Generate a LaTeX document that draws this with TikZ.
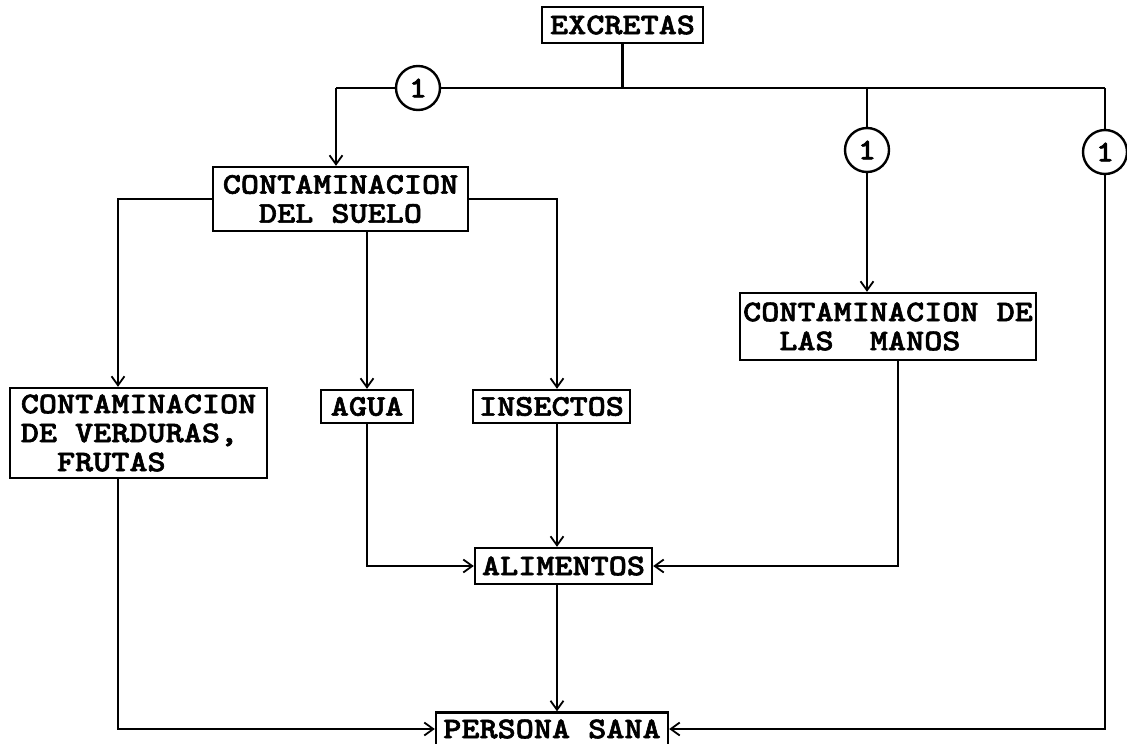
\documentclass[tikz,border=0pt]{standalone}
\usepackage{fontspec}
\newfontfamily\tw{lmmonolt10-bold.otf}[FakeStretch=1.15,FakeBold=2]
\usetikzlibrary{arrows.meta}
\tikzset{
  box/.style={draw, line width=2.4pt, font=\fontsize{30}{29}\selectfont\tw, inner sep=0pt, align=center},
  conn/.style={line width=2.2pt},
  arr/.style={conn, -{Straight Barb[length=9pt,width=13pt,line width=1.8pt]}},
  num/.style={draw, circle, line width=2.4pt, minimum size=44pt, inner sep=0pt, fill=white, font=\fontsize{30}{30}\selectfont\tw}
}
\begin{document}
\begin{tikzpicture}[x=1pt,y=-1pt]
\useasboundingbox (0,0) rectangle (1127,744);
\fill[white] (0,0) rectangle (1127,744);

\coordinate (colL) at (118,0);
\coordinate (colx) at (557,0);
\coordinate (tl) at (336,88);

\node[box, minimum width=161pt, minimum height=36pt] (ex) at (622.5,25) {EXCRETAS};
\node[box, minimum width=255pt, minimum height=64pt] (suelo) at (340.5,199) {CONTAMINACION\\DEL SUELO};
\node[box, minimum width=296pt, minimum height=67pt, align=left] (manos) at (888,326.5) {CONTAMINACION DE\\~~LAS~~MANOS};
\node[box, minimum width=257pt, minimum height=90pt, align=left] (verd) at (138.5,433) {CONTAMINACION\\DE VERDURAS,\\~~FRUTAS};
\node[box, minimum width=92pt, minimum height=33pt] (agua) at (367,406.5) {AGUA};
\node[box, minimum width=157pt, minimum height=33pt] (insect) at (551.5,406.5) {INSECTOS};
\node[box, minimum width=177pt, minimum height=36pt] (alim) at (563.5,566) {ALIMENTOS};
\node[box, minimum width=232pt, minimum height=33pt] (pers) at (552,729) {PERSONA SANA};

\node[num] (c1) at (418,88) {1};
\node[num] (c2) at (867,150) {1};
\node[num] (c3) at (1105,152) {1};

\coordinate (j2) at (c2 |- c1);
\coordinate (tr) at (c3 |- c1);

% top distribution line
\draw[conn] (ex.south) -- (ex.south |- c1);
\draw[conn] (c1.east) -- (tr);
\draw[conn] (tl) -- (c1.west);
\draw[arr] (tl) -- (tl |- suelo.north);
\draw[conn] (j2) -- (c2.north);
\draw[arr] (c2.south) -- (c2.south |- manos.north);
\draw[conn] (tr) -- (c3.north);
\draw[arr] (c3.south) |- (pers.east);

% from soil contamination
\draw[arr] (suelo.west) -| (colL |- verd.north);
\draw[arr] (agua.north |- suelo.south) -- (agua.north);
\draw[arr] (suelo.east) -| (colx |- insect.north);

% to food
\draw[arr] (agua.south) |- (alim.west);
\draw[arr] (colx |- insect.south) -- (colx |- alim.north);
\draw[arr] ([xshift=10pt]manos.south) |- (alim.east);

% to healthy person
\draw[arr] (colL |- verd.south) |- (pers.west);
\draw[arr] (colx |- alim.south) -- (colx |- pers.north);
\end{tikzpicture}
\end{document}
